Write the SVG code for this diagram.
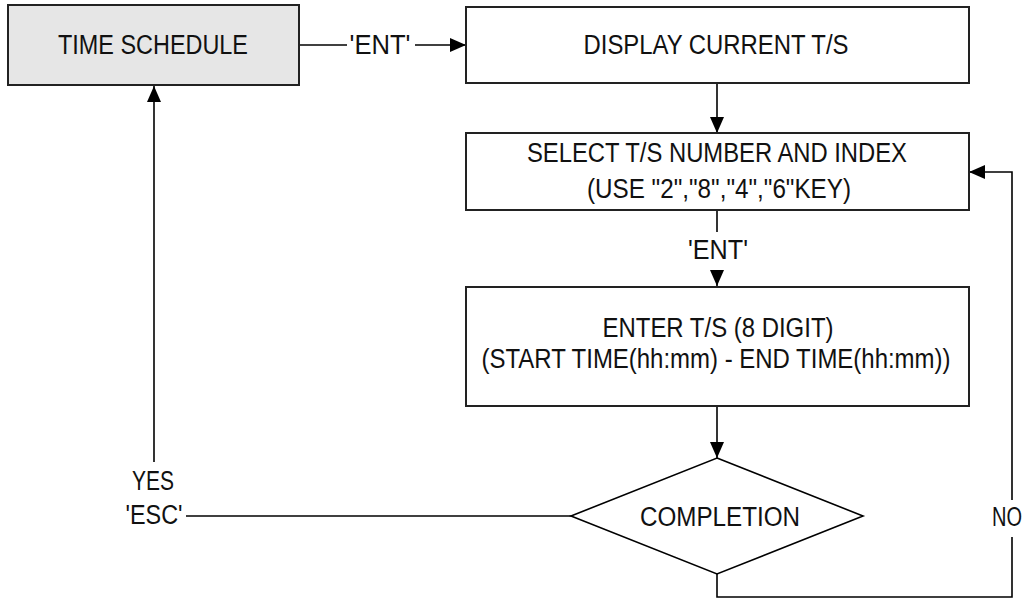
<svg xmlns="http://www.w3.org/2000/svg" width="1028" height="600" viewBox="0 0 1028 600">
  <style>
    .box { fill: #ffffff; stroke: #222222; stroke-width: 2; }
    .grey { fill: #e6e6e6; }
    .line { fill: none; stroke: #000000; stroke-width: 1.6; }
    .arrow { marker-end: url(#ah); }
    text { font-family: "Liberation Sans", Arial, sans-serif; font-size: 27px; fill: #111111; text-anchor: middle; }
  </style>
  <defs>
    <marker id="ah" markerUnits="userSpaceOnUse" markerWidth="16" markerHeight="14" refX="16" refY="7" orient="auto">
      <path d="M0,0 L16,7 L0,14 Z" fill="#000000"/>
    </marker>
  </defs>
  <rect width="1028" height="600" fill="#ffffff"/>

  <g id="connectors">
    <line class="line" x1="299" y1="45" x2="347" y2="45"/>
    <line class="line arrow" x1="415" y1="45" x2="466" y2="45"/>
    <line class="line arrow" x1="717" y1="83" x2="717" y2="133"/>
    <line class="line" x1="717" y1="210" x2="717" y2="232"/>
    <line class="line arrow" x1="717" y1="270" x2="717" y2="286"/>
    <line class="line arrow" x1="717" y1="406" x2="717" y2="458"/>
    <line class="line" x1="571" y1="516" x2="186" y2="516"/>
    <line class="line arrow" x1="154" y1="462" x2="154" y2="86"/>
    <polyline class="line" points="717,574 717,597 1012,597 1012,537"/>
    <polyline class="line arrow" points="1012,500 1012,172 969,172"/>
    <text x="380" y="54" textLength="61" lengthAdjust="spacingAndGlyphs">'ENT'</text>
    <text x="718" y="259" textLength="60" lengthAdjust="spacingAndGlyphs">'ENT'</text>
    <text x="153" y="490" textLength="42" lengthAdjust="spacingAndGlyphs">YES</text>
    <text x="154" y="524" textLength="57" lengthAdjust="spacingAndGlyphs">'ESC'</text>
    <text x="1007" y="526" textLength="30" lengthAdjust="spacingAndGlyphs">NO</text>
  </g>

  <g id="time-schedule">
    <rect class="box grey" x="8" y="5" width="291" height="80"/>
    <text x="153" y="54" textLength="190" lengthAdjust="spacingAndGlyphs">TIME SCHEDULE</text>
  </g>

  <g id="display-current">
    <rect class="box" x="466" y="7" width="503" height="76"/>
    <text x="716" y="54" textLength="265" lengthAdjust="spacingAndGlyphs">DISPLAY CURRENT T/S</text>
  </g>

  <g id="select-ts">
    <rect class="box" x="466" y="133" width="503" height="77"/>
    <text x="717" y="162" textLength="380" lengthAdjust="spacingAndGlyphs">SELECT T/S NUMBER AND INDEX</text>
    <text x="719" y="198" textLength="264" lengthAdjust="spacingAndGlyphs">(USE "2","8","4","6"KEY)</text>
  </g>

  <g id="enter-ts">
    <rect class="box" x="466" y="287" width="503" height="119"/>
    <text x="718" y="337" textLength="231" lengthAdjust="spacingAndGlyphs">ENTER T/S (8 DIGIT)</text>
    <text x="716" y="368" textLength="469" lengthAdjust="spacingAndGlyphs">(START TIME(hh:mm) - END TIME(hh:mm))</text>
  </g>

  <g id="completion">
    <polygon class="box" points="717,458 863,516 717,574 571,516" style="stroke:#000000;stroke-width:1.6"/>
    <text x="720" y="526" textLength="160" lengthAdjust="spacingAndGlyphs">COMPLETION</text>
  </g>
</svg>
